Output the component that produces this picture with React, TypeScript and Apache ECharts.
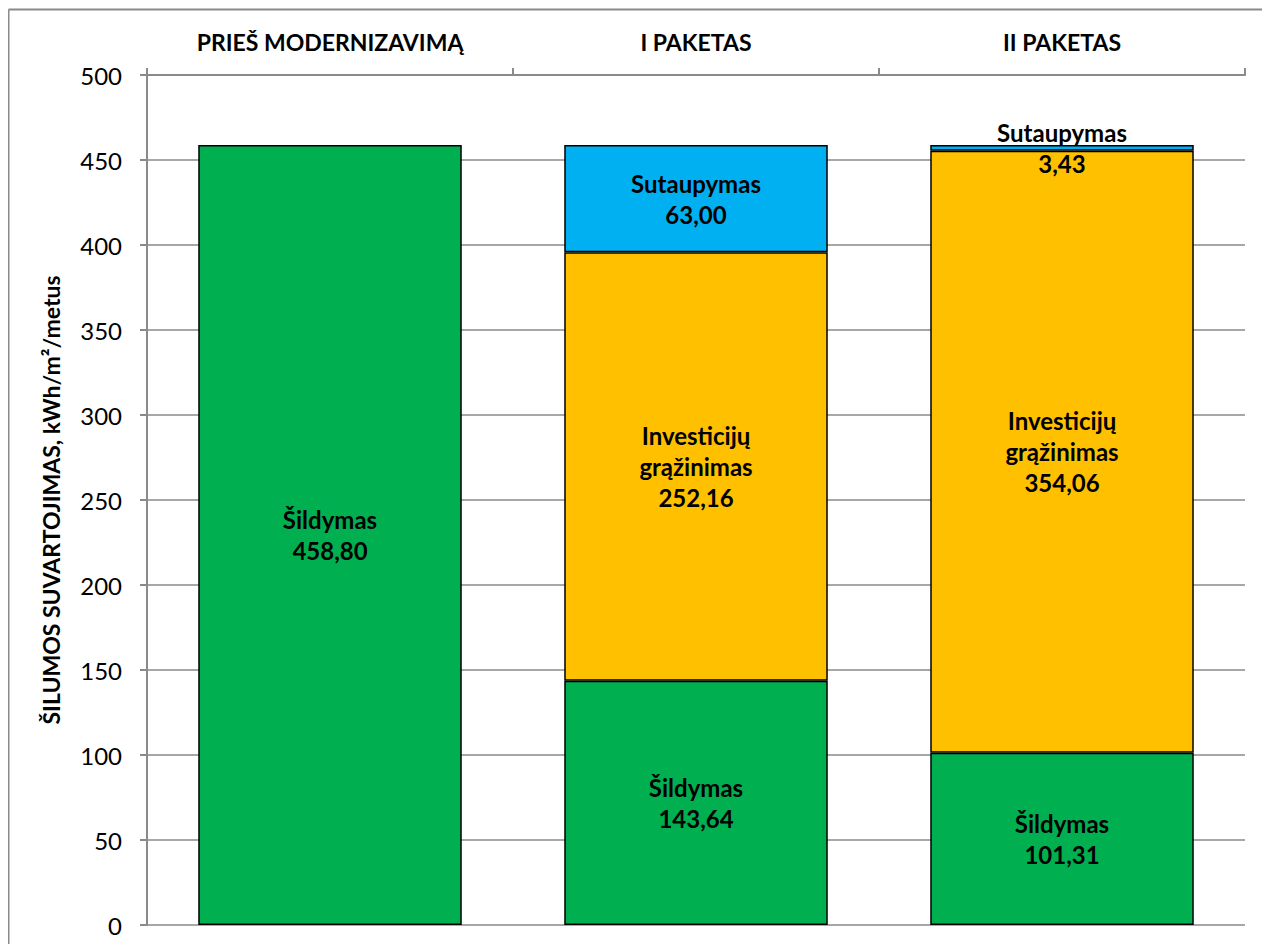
import React, { useEffect, useRef } from "react";
import * as echarts from "echarts";

const categories = ["PRIEŠ MODERNIZAVIMĄ", "I PAKETAS", "II PAKETAS"];
const sildymas = [458.8, 143.64, 101.31];
const investicijos = [null, 252.16, 354.06];
const sutaupymas = [null, 63.0, 3.43];
const yTicks = [0, 50, 100, 150, 200, 250, 300, 350, 400, 450, 500];

const FONT = "Lato";
const fmt = (v: number) => v.toFixed(2).replace(".", ",");

export default function App() {
  const ref = useRef<HTMLDivElement>(null);
  useEffect(() => {
    document.documentElement.style.overflow = "hidden";
    document.body.style.overflow = "hidden";
    const chart = echarts.init(ref.current!, null, { renderer: "svg" });
    const labelBase = {
      show: true,
      position: "inside" as const,
      color: "#000",
      fontFamily: FONT,
      fontWeight: "bold" as const,
      fontSize: 24,
      lineHeight: 31,
    };
    const itemStyle = (c: string) => ({ color: c, borderColor: "#000", borderWidth: 1.5 });
    chart.setOption({
      animation: false,
      backgroundColor: "#fff",
      grid: { left: 139, right: 25, top: 67, bottom: 19, containLabel: false },
      graphic: [
        { type: "line", shape: { x1: 0.5, y1: 1.5, x2: 1262, y2: 1.5 }, style: { stroke: "#8a8a8a", lineWidth: 2 } },
        { type: "line", shape: { x1: 0.5, y1: 1.5, x2: 0.5, y2: 936 }, style: { stroke: "#8a8a8a", lineWidth: 2 } },
      ],
      xAxis: {
        type: "category",
        data: categories,
        position: "top",
        axisLine: { onZero: false, lineStyle: { color: "#8a8a8a", width: 2 } },
        axisTick: { show: true, length: 7, lineStyle: { color: "#8a8a8a", width: 2 } },
        axisLabel: { color: "#000", fontFamily: FONT, fontWeight: "bold", fontSize: 23, margin: 22 },
      },
      yAxis: {
        type: "value",
        min: yTicks[0],
        max: yTicks[yTicks.length - 1],
        interval: 50,
        name: "ŠILUMOS SUVARTOJIMAS, kWh/m²/metus",
        nameLocation: "middle",
        nameGap: 85,
        nameRotate: 90,
        nameTextStyle: { color: "#000", fontFamily: FONT, fontWeight: "bold", fontSize: 23 },
        axisLine: { show: true, lineStyle: { color: "#8a8a8a", width: 2 } },
        axisTick: { show: true, length: 7, lineStyle: { color: "#8a8a8a", width: 2 } },
        axisLabel: { color: "#000", fontFamily: FONT, fontSize: 24, margin: 25 },
        splitLine: { show: true, lineStyle: { color: "#8a8a8a", width: 1.5 } },
      },
      series: [
        {
          name: "Šildymas",
          type: "bar",
          stack: "a",
          barWidth: "72%",
          data: sildymas,
          itemStyle: itemStyle("#00B050"),
          label: { ...labelBase, formatter: (p: any) => `Šildymas\n${fmt(p.value)}` },
        },
        {
          name: "Investicijų grąžinimas",
          type: "bar",
          stack: "a",
          data: investicijos,
          itemStyle: itemStyle("#FFC000"),
          label: { ...labelBase, formatter: (p: any) => `Investicijų\ngrąžinimas\n${fmt(p.value)}` },
        },
        {
          name: "Sutaupymas",
          type: "bar",
          stack: "a",
          data: sutaupymas,
          itemStyle: itemStyle("#00B0F0"),
          label: { ...labelBase, formatter: (p: any) => `Sutaupymas\n${fmt(p.value)}` },
        },
      ],
    });
    return () => chart.dispose();
  }, []);
  return <div ref={ref} style={{ width: 1262, height: 936 }} />;
}
